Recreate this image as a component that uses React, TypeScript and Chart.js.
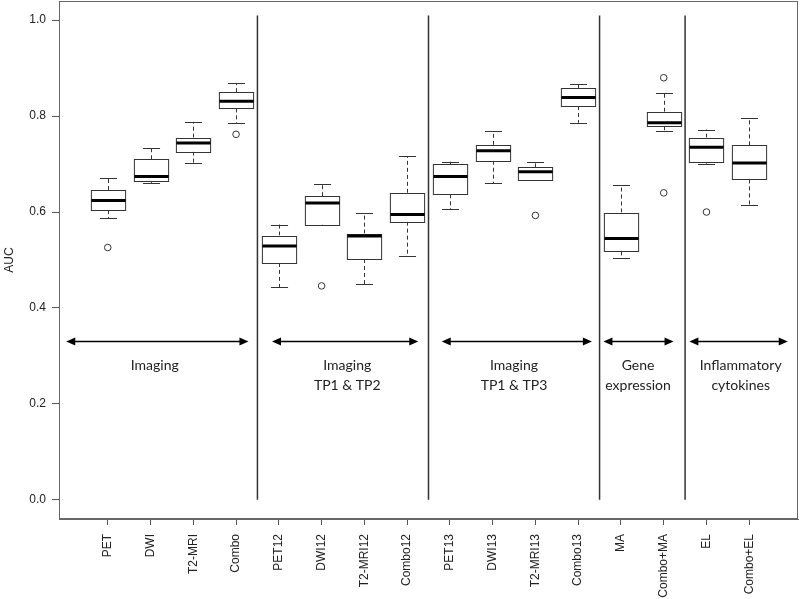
import React, { useEffect, useRef } from "react";
import { Chart, registerables } from "chart.js";

Chart.register(...registerables);

// ---- data ----
const categories = ["PET", "DWI", "T2-MRI", "Combo", "PET12", "DWI12", "T2-MRI12", "Combo12", "PET13", "DWI13", "T2-MRI13", "Combo13", "MA", "Combo+MA", "EL", "Combo+EL"];
const whiskerLow = [0.587, 0.661, 0.702, 0.785, 0.443, 0.573, 0.450, 0.509, 0.606, 0.660, 0.667, 0.786, 0.505, 0.769, 0.701, 0.614];
const q1 = [0.604, 0.665, 0.726, 0.816, 0.494, 0.574, 0.502, 0.580, 0.637, 0.707, 0.667, 0.821, 0.518, 0.779, 0.705, 0.668];
const medians = [0.624, 0.674, 0.744, 0.831, 0.529, 0.619, 0.550, 0.595, 0.674, 0.728, 0.684, 0.839, 0.545, 0.786, 0.735, 0.702];
const q3 = [0.646, 0.710, 0.755, 0.850, 0.551, 0.633, 0.555, 0.640, 0.700, 0.740, 0.693, 0.858, 0.599, 0.809, 0.755, 0.739];
const whiskerHigh = [0.671, 0.733, 0.788, 0.868, 0.574, 0.659, 0.597, 0.716, 0.705, 0.769, 0.704, 0.866, 0.657, 0.849, 0.772, 0.796];
const outlierCategory = ["PET", "Combo", "DWI12", "T2-MRI13", "Combo+MA", "Combo+MA", "EL"];
const outlierValue = [0.526, 0.762, 0.446, 0.593, 0.640, 0.880, 0.600];
const yTicks = [0, 0.2, 0.4, 0.6, 0.8, 1.0];

const separators = [4.5, 8.5, 12.5, 14.5];
const groupLabels = [["Imaging"], ["Imaging", "TP1 & TP2"], ["Imaging", "TP1 & TP3"], ["Gene", "expression"], ["Inflammatory", "cytokines"]];
const groupArrowStart = [0.03, 4.84, 8.81, 12.59, 14.6];
const groupArrowEnd = [4.29, 8.26, 12.32, 14.23, 16.9];
const groupLabelX = [2.1, 6.6, 10.5, 13.4, 15.8];
const arrowLevel = 0.33;
const labelLevel = 0.281;

const AXIS_FONT = "'Liberation Sans', Arial, Helvetica, sans-serif";

const boxPlugin = {
  id: "boxes",
  beforeDatasetsDraw(chart: any) {
    const { ctx, chartArea } = chart;
    const xs = chart.scales.x;
    const ys = chart.scales.y;
    ctx.save();
    // frame
    ctx.strokeStyle = "#666";
    ctx.lineWidth = 1;
    ctx.strokeRect(chartArea.left + 0.5, chartArea.top + 0.5, chartArea.right - chartArea.left - 1, chartArea.bottom - chartArea.top - 1);

    const halfW = xs.getPixelForValue(1.4) - xs.getPixelForValue(1);
    const capW = halfW / 2;
    for (let i = 0; i < categories.length; i++) {
      const xc = Math.round(xs.getPixelForValue(i + 1)) + 0.5;
      const yLo = ys.getPixelForValue(whiskerLow[i]);
      const yQ1 = ys.getPixelForValue(q1[i]);
      const yMed = ys.getPixelForValue(medians[i]);
      const yQ3 = ys.getPixelForValue(q3[i]);
      const yHi = ys.getPixelForValue(whiskerHigh[i]);
      ctx.strokeStyle = "#333";
      ctx.lineWidth = 1;
      // whiskers
      ctx.setLineDash([4, 3]);
      ctx.beginPath();
      ctx.moveTo(xc, yQ3);
      ctx.lineTo(xc, yHi);
      ctx.moveTo(xc, yQ1);
      ctx.lineTo(xc, yLo);
      ctx.stroke();
      ctx.setLineDash([]);
      // caps
      ctx.beginPath();
      ctx.moveTo(xc - capW, Math.round(yHi) + 0.5);
      ctx.lineTo(xc + capW, Math.round(yHi) + 0.5);
      ctx.moveTo(xc - capW, Math.round(yLo) + 0.5);
      ctx.lineTo(xc + capW, Math.round(yLo) + 0.5);
      ctx.stroke();
      // box
      ctx.fillStyle = "#fff";
      ctx.fillRect(xc - halfW, yQ3, halfW * 2, yQ1 - yQ3);
      ctx.strokeRect(xc - halfW, Math.round(yQ3) + 0.5, halfW * 2, Math.round(yQ1) - Math.round(yQ3));
      // median
      ctx.strokeStyle = "#000";
      ctx.lineWidth = 3;
      ctx.beginPath();
      ctx.moveTo(xc - halfW, yMed);
      ctx.lineTo(xc + halfW, yMed);
      ctx.stroke();
    }

    // separators
    ctx.strokeStyle = "#333";
    ctx.lineWidth = 1.5;
    for (const s of separators) {
      const x = xs.getPixelForValue(s);
      ctx.beginPath();
      ctx.moveTo(x, ys.getPixelForValue(0));
      ctx.lineTo(x, ys.getPixelForValue(1.01));
      ctx.stroke();
    }

    // arrows
    const ya = ys.getPixelForValue(arrowLevel);
    ctx.strokeStyle = "#000";
    ctx.fillStyle = "#000";
    ctx.lineWidth = 1.5;
    for (let g = 0; g < groupArrowStart.length; g++) {
      const x1 = xs.getPixelForValue(groupArrowStart[g]);
      const x2 = xs.getPixelForValue(groupArrowEnd[g]);
      ctx.beginPath();
      ctx.moveTo(x1 + 4, ya);
      ctx.lineTo(x2 - 4, ya);
      ctx.stroke();
      ctx.beginPath();
      ctx.moveTo(x1, ya);
      ctx.lineTo(x1 + 9, ya - 4);
      ctx.lineTo(x1 + 9, ya + 4);
      ctx.closePath();
      ctx.fill();
      ctx.beginPath();
      ctx.moveTo(x2, ya);
      ctx.lineTo(x2 - 9, ya - 4);
      ctx.lineTo(x2 - 9, ya + 4);
      ctx.closePath();
      ctx.fill();
    }

    // group labels
    const yl = ys.getPixelForValue(labelLevel);
    ctx.font = "14px Lato";
    ctx.fillStyle = "#222";
    ctx.textAlign = "center";
    ctx.textBaseline = "middle";
    for (let g = 0; g < groupLabels.length; g++) {
      const x = xs.getPixelForValue(groupLabelX[g]);
      groupLabels[g].forEach((line, k) => ctx.fillText(line, x, yl + k * 20));
    }
    ctx.restore();
  },
};

export default function App() {
  const ref = useRef<HTMLCanvasElement>(null);
  useEffect(() => {
    if (!ref.current) return;
    const points = outlierCategory.map((c, i) => ({ x: categories.indexOf(c) + 1, y: outlierValue[i] }));
    const chart = new Chart(ref.current, {
      type: "scatter",
      data: {
        datasets: [
          {
            data: points,
            pointStyle: "circle",
            pointRadius: 3.3,
            borderColor: "#333",
            backgroundColor: "rgba(0,0,0,0)",
            borderWidth: 1,
          },
        ],
      },
      options: {
        responsive: false,
        animation: false,
        layout: { autoPadding: false, padding: { top: 1, right: 2, left: 0, bottom: 0 } },
        plugins: { legend: { display: false }, tooltip: { enabled: false } },
        scales: {
          x: {
            type: "linear",
            min: -0.14,
            max: 17.14,
            afterBuildTicks: (s: any) => {
              s.ticks = categories.map((_, i) => ({ value: i + 1 }));
            },
            afterFit: (s: any) => {
              s.height = 80;
              s.paddingLeft = 0;
              s.paddingRight = 0;
            },
            ticks: {
              autoSkip: false,
              minRotation: 90,
              maxRotation: 90,
              padding: 9,
              color: "#222",
              font: { family: AXIS_FONT, size: 12 },
              callback: (v: any) => categories[Math.round(Number(v)) - 1] ?? "",
            },
            grid: { drawOnChartArea: false, drawTicks: true, tickLength: 6, color: "#555" },
            border: { display: true, color: "#666" },
          },
          y: {
            type: "linear",
            min: -0.04,
            max: 1.04,
            afterBuildTicks: (s: any) => {
              s.ticks = yTicks.map((v) => ({ value: v }));
            },
            afterFit: (s: any) => {
              s.width = 59;
              s.paddingTop = 0;
              s.paddingBottom = 0;
            },
            ticks: {
              padding: 6,
              color: "#222",
              font: { family: AXIS_FONT, size: 12 },
              callback: (v: any) => Number(v).toFixed(1),
            },
            grid: { drawOnChartArea: false, drawTicks: true, tickLength: 7, color: "#555" },
            border: { display: true, color: "#666" },
            title: {
              display: true,
              text: "AUC",
              color: "#222",
              font: { family: AXIS_FONT, size: 12 },
              padding: { top: 2, bottom: 0 },
            },
          },
        },
      },
      plugins: [boxPlugin],
    });
    return () => chart.destroy();
  }, []);
  return (
    <div style={{ position: "fixed", left: 0, top: 0, width: 800, height: 599, background: "#fff" }}>
      <canvas ref={ref} width={800} height={599} style={{ display: "block" }} />
    </div>
  );
}
